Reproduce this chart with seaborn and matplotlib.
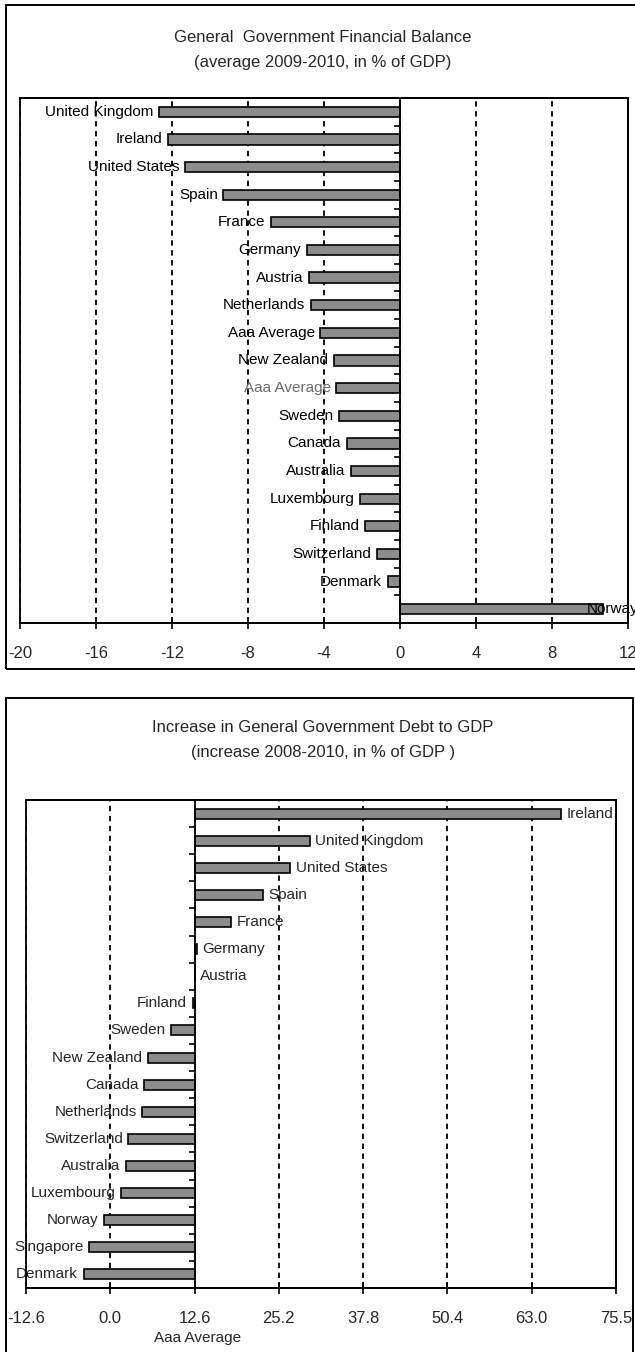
import numpy as np
import pandas as pd
import matplotlib
matplotlib.use("Agg")
import matplotlib.pyplot as plt
from matplotlib.patches import Rectangle
import seaborn as sns

# ---- data -------------------------------------------------------------
balance_countries = ["United Kingdom", "Ireland", "United States", "Spain", "France",
                     "Germany", "Austria", "Netherlands", "Aaa Average", "New Zealand",
                     "Aaa Average", "Sweden", "Canada", "Australia", "Luxembourg",
                     "Finland", "Switzerland", "Denmark", "Norway"]
balance_values = [-12.7, -12.2, -11.3, -9.3, -6.8, -4.9, -4.8, -4.7, -4.2, -3.5,
                  -3.35, -3.2, -2.8, -2.6, -2.1, -1.85, -1.2, -0.65, 10.7]
balance_ticks = [-20, -16, -12, -8, -4, 0, 4, 8, 12]

debt_countries = ["Ireland", "United Kingdom", "United States", "Spain", "France",
                  "Germany", "Austria", "Finland", "Sweden", "New Zealand", "Canada",
                  "Netherlands", "Switzerland", "Australia", "Luxembourg", "Norway",
                  "Singapore", "Denmark"]
debt_values = [67.4, 29.8, 26.9, 22.85, 18.0, 12.9, 12.59, 12.3, 9.1, 5.6, 5.1, 4.8,
               2.7, 2.4, 1.65, -0.9, -3.2, -4.0]
aaa_average = 12.591
debt_tick_labels = ["-12.6", "0.0", "12.6", "25.2", "37.8", "50.4", "63.0", "75.5"]

titles_top = ["General  Government Financial Balance", "(average 2009-2010, in % of GDP)"]
titles_bottom = ["Increase in General Government Debt to GDP", "(increase 2008-2010, in % of GDP )"]

# ---- style ------------------------------------------------------------
sns.set_style("white")
plt.rcParams["font.family"] = ["Liberation Sans", "DejaVu Sans"]
FS = 11
FS_TITLE = 12
BAR_COLOR = "#8c8c8c"

W, H = 635, 1352
fig = plt.figure(figsize=(W / 100, H / 100), dpi=100)


def fig_rect(x0, y0, x1, y1):
    """Pixel box (top-left origin) -> figure fraction rect."""
    return [x0 / W, 1 - y1 / H, (x1 - x0) / W, (y1 - y0) / H]


def style_axes(ax, xmin, xmax, axis_x, n):
    ax.set_xlim(xmin, xmax)
    ax.set_ylim(n - 0.5, -0.5)
    ax.set_axisbelow(True)
    ax.grid(axis="x", color="black", linestyle=(0, (3, 2.5)), linewidth=1.3)
    ax.grid(axis="y", visible=False)
    for side in ["top", "right", "bottom"]:
        ax.spines[side].set_visible(True)
        ax.spines[side].set_color("black")
        ax.spines[side].set_linewidth(1.3)
    ax.spines["left"].set_position(("data", axis_x))
    ax.spines["left"].set_color("black")
    ax.spines["left"].set_linewidth(1.3)
    ax.add_patch(Rectangle((0, 0), 1, 1, transform=ax.transAxes, fill=False,
                           edgecolor="black", linewidth=1.3, clip_on=False, zorder=5))
    ax.set_yticks(np.arange(n - 1) + 0.5)
    ax.set_yticklabels([])
    ax.tick_params(axis="y", direction="out", length=4, width=1.2, color="black", left=True)
    ax.tick_params(axis="x", direction="inout", length=9, width=1.2, color="black",
                   bottom=True, labelsize=FS_TITLE, pad=12)
    ax.set_ylabel("")
    ax.set_xlabel("")


# ---- top chart: financial balance --------------------------------------
ax1 = fig.add_axes(fig_rect(20, 98, 628, 623))
n1 = len(balance_values)
df1 = pd.DataFrame({"pos": np.arange(n1), "value": balance_values})
sns.barplot(data=df1, x="value", y="pos", orient="h", color=BAR_COLOR, saturation=1,
            edgecolor="black", linewidth=1.2, width=0.37, ax=ax1)
style_axes(ax1, balance_ticks[0], balance_ticks[-1], 0, n1)
ax1.set_xticks(balance_ticks)
ax1.set_xticklabels([str(t) for t in balance_ticks])

for i, (name, v) in enumerate(zip(balance_countries, balance_values)):
    color = "#6a6a6a" if (name == "Aaa Average" and i > 8) else "black"
    if v < 0:
        ax1.annotate(name, (v, i), xytext=(-4, 0), textcoords="offset points",
                     ha="right", va="center", fontsize=FS, color=color)
    else:
        ax1.annotate(name, (v, i), xytext=(-12, 0), textcoords="offset points",
                     ha="left", va="center", fontsize=FS, color=color,
                     annotation_clip=False)

# ---- bottom chart: debt increase ---------------------------------------
ax2 = fig.add_axes(fig_rect(26, 800, 616, 1288))
n2 = len(debt_values)
df2 = pd.DataFrame({"pos": np.arange(n2),
                    "change": np.array(debt_values) - aaa_average})
# bars start at the Aaa average and run to each country's value
sns.barplot(data=df2, x="change", y="pos", orient="h", color=BAR_COLOR, saturation=1,
            edgecolor="black", linewidth=1.2, width=0.37, left=aaa_average, ax=ax2)
debt_ticks = aaa_average * np.arange(-1, 7)
style_axes(ax2, debt_ticks[0], debt_ticks[-1], aaa_average, n2)
ax2.set_xticks(debt_ticks)
ax2.set_xticklabels(debt_tick_labels)
ax2.set_xlabel("Aaa Average", fontsize=FS)
ax2.xaxis.set_label_coords((aaa_average - debt_ticks[0]) / (debt_ticks[-1] - debt_ticks[0]) + 0.005,
                           -0.088)

for i, (name, v) in enumerate(zip(debt_countries, debt_values)):
    if v >= aaa_average - 0.05:
        ax2.annotate(name, (max(v, aaa_average), i), xytext=(4, 0), textcoords="offset points",
                     ha="left", va="center", fontsize=FS)
    else:
        ax2.annotate(name, (v, i), xytext=(-4, 0), textcoords="offset points",
                     ha="right", va="center", fontsize=FS)

# ---- chart frames and titles -------------------------------------------
fig.add_artist(Rectangle((6 / W, 1 - 669 / H), 650 / W, 664 / H, transform=fig.transFigure,
                         fill=False, edgecolor="black", linewidth=1.4))
fig.add_artist(Rectangle((6 / W, 1 - 1370 / H), 627 / W, 672 / H, transform=fig.transFigure,
                         fill=False, edgecolor="black", linewidth=1.4))

fig.text(323 / W, 1 - 38 / H, titles_top[0], ha="center", va="center", fontsize=FS_TITLE)
fig.text(323 / W, 1 - 63 / H, titles_top[1], ha="center", va="center", fontsize=FS_TITLE)
fig.text(323 / W, 1 - 728 / H, titles_bottom[0], ha="center", va="center", fontsize=FS_TITLE)
fig.text(323 / W, 1 - 753 / H, titles_bottom[1], ha="center", va="center", fontsize=FS_TITLE)

fig.savefig("out.png", dpi=100, facecolor="white")
